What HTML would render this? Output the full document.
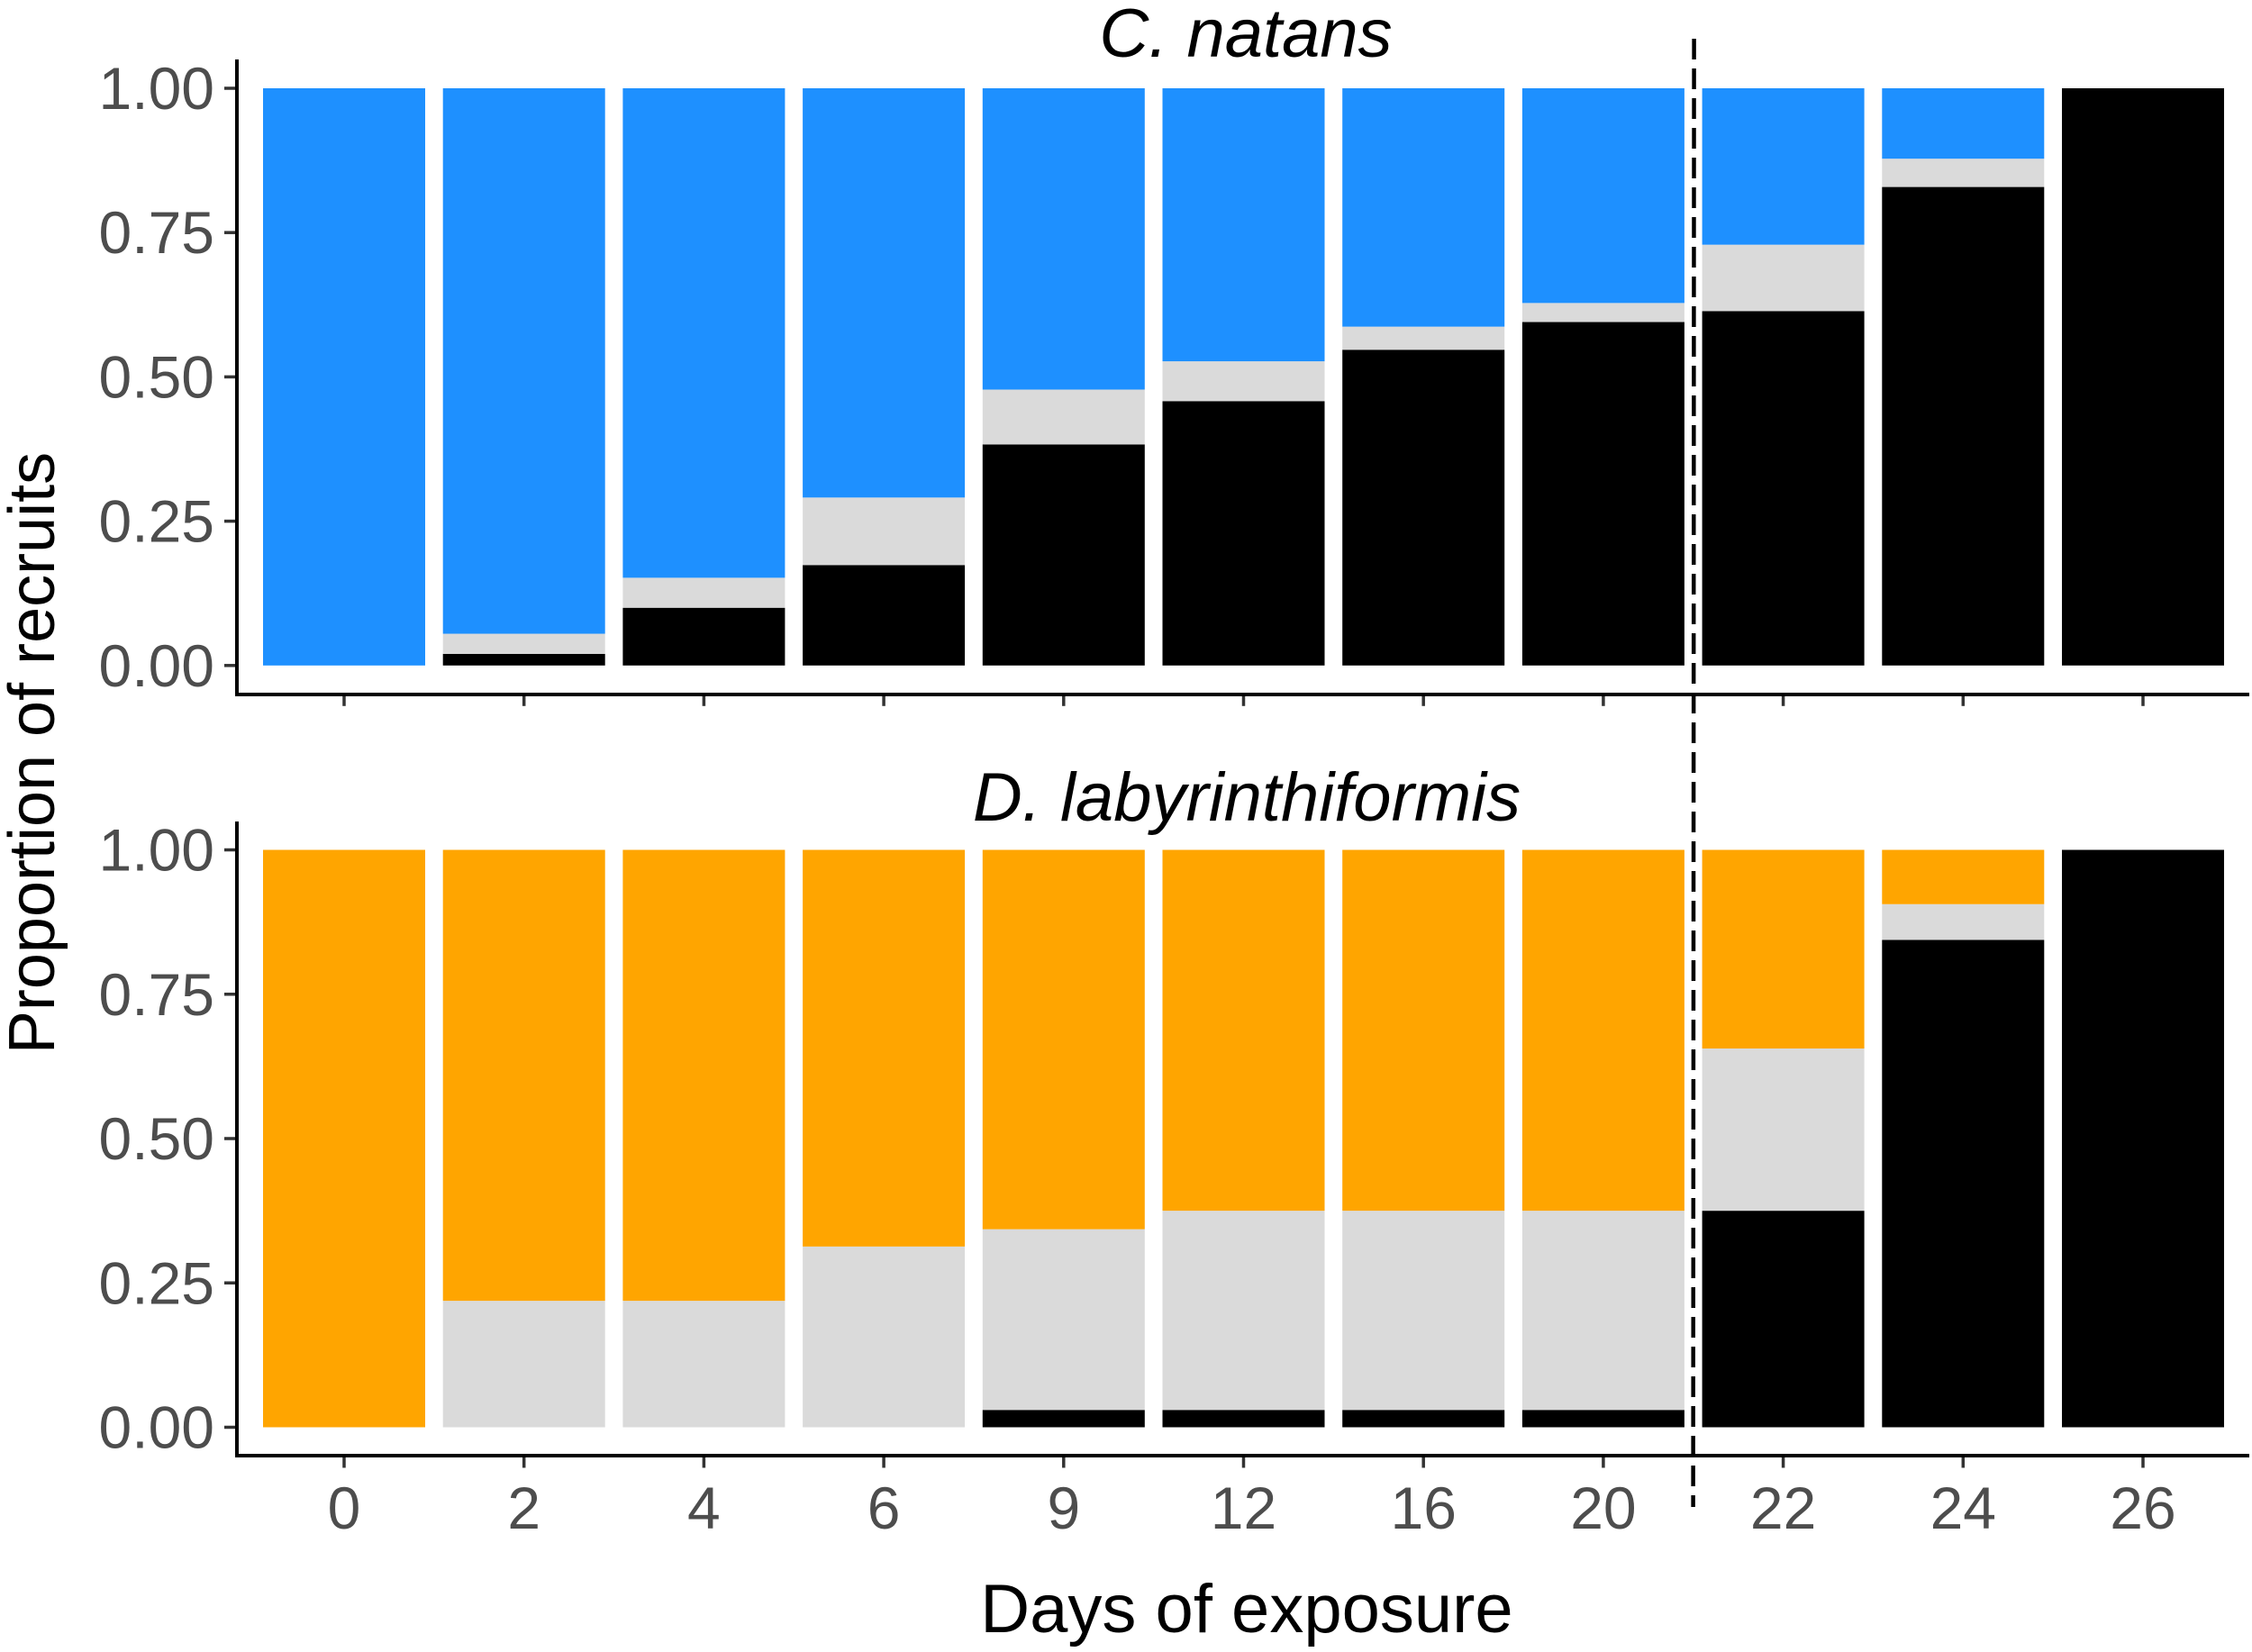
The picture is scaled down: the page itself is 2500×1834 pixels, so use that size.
<!DOCTYPE html>
<html>
<head>
<meta charset="utf-8">
<title>Proportion of recruits by days of exposure</title>
<style>
html,body{margin:0;padding:0;background:#fff;width:2500px;height:1834px;overflow:hidden}
svg{display:block}
text{font-family:"Liberation Sans",Arial,sans-serif}
</style>
</head>
<body>
<svg id="chart" xmlns="http://www.w3.org/2000/svg" width="2500" height="1834" viewBox="0 0 2500 1834">
  <rect x="0" y="0" width="2500" height="1834" fill="#fff"/>
  <g id="panel-top"></g>
  <g id="panel-bottom"></g>
  <line x1="263" y1="66" x2="263" y2="773" stroke="#000" stroke-width="4"/>
  <line x1="261" y1="771" x2="2497" y2="771" stroke="#000" stroke-width="4"/>
  <line x1="263" y1="912" x2="263" y2="1618" stroke="#000" stroke-width="4"/>
  <line x1="261" y1="1616" x2="2497" y2="1616" stroke="#000" stroke-width="4"/>
  <text x="1383" y="63" font-size="76" font-style="italic" text-anchor="middle" fill="#000">C. natans</text>
  <text x="1384" y="911" font-size="76" font-style="italic" text-anchor="middle" fill="#000">D. labyrinthiformis</text>
  <text x="1384" y="1812" font-size="76" text-anchor="middle" fill="#000">Days of exposure</text>
  <text x="60" y="836" font-size="72" text-anchor="middle" fill="#000" transform="rotate(-90 60 836)">Proportion of recruits</text>
  <line x1="1880.6" y1="43" x2="1879.6" y2="1673" stroke="#000" stroke-width="4.5" stroke-dasharray="23 10"/>
</svg>
<script>
// Chart data
const days = ["0","2","4","6","9","12","16","20","22","24","26"];
const yTicks = [0, 0.25, 0.5, 0.75, 1];
const yTickLabels = ["0.00","0.25","0.50","0.75","1.00"];

// Proportions per day, stacked bottom to top
const natansBlack = [0, 0.02, 0.10, 0.174, 0.383, 0.458, 0.547, 0.595, 0.614, 0.829, 1];
const natansGrey  = [0, 0.035, 0.052, 0.117, 0.095, 0.069, 0.040, 0.033, 0.115, 0.049, 0];
const natansBlue  = [1, 0.945, 0.848, 0.709, 0.522, 0.473, 0.413, 0.372, 0.271, 0.122, 0];

const labyBlack  = [0, 0, 0, 0, 0.03, 0.03, 0.03, 0.03, 0.375, 0.844, 1];
const labyGrey   = [0, 0.219, 0.219, 0.313, 0.313, 0.345, 0.345, 0.345, 0.281, 0.062, 0];
const labyOrange = [1, 0.781, 0.781, 0.687, 0.657, 0.625, 0.625, 0.625, 0.344, 0.094, 0];

const SVG_NS = "http://www.w3.org/2000/svg";
const BAR_WIDTH = 180;
function xScale(i){ return 382 + 199.7 * i; }
function makeYScale(y0, y1){ return function(v){ return y0 + (y1 - y0) * v; }; }

function drawPanel(groupId, prefix, yScale, bottomSeries, midSeries, topSeries, topColor, topName, showXLabels){
  const g = document.getElementById(groupId);

  days.forEach(function(day, i){
    const segments = [
      {value: bottomSeries[i], color: "#000000", name: "settled"},
      {value: midSeries[i], color: "#DADADA", name: "intermediate"},
      {value: topSeries[i], color: topColor, name: topName}
    ];
    let cumulative = 0;
    segments.forEach(function(seg){
      if (seg.value <= 0) return;
      const top = yScale(cumulative + seg.value);
      const bottom = yScale(cumulative);
      const r = document.createElementNS(SVG_NS, "rect");
      r.setAttribute("x", xScale(i) - BAR_WIDTH / 2);
      r.setAttribute("y", top);
      r.setAttribute("width", BAR_WIDTH);
      r.setAttribute("height", bottom - top);
      r.setAttribute("fill", seg.color);
      
      
      g.appendChild(r);
      cumulative += seg.value;
    });

    const xAxisY = yScale(0) + 32;
    const tick = document.createElementNS(SVG_NS, "line");
    tick.setAttribute("x1", xScale(i));
    tick.setAttribute("x2", xScale(i));
    tick.setAttribute("y1", xAxisY);
    tick.setAttribute("y2", xAxisY + 13);
    tick.setAttribute("stroke", "#333333");
    tick.setAttribute("stroke-width", "3.5");
    
    
    g.appendChild(tick);

    if (showXLabels){
      const label = document.createElementNS(SVG_NS, "text");
      label.setAttribute("x", xScale(i));
      label.setAttribute("y", 1697);
      label.setAttribute("font-size", "66");
      label.setAttribute("text-anchor", "middle");
      label.setAttribute("fill", "#4D4D4D");
      
      
      label.textContent = day;
      g.appendChild(label);
    }
  });

  yTicks.forEach(function(v, i){
    const y = yScale(v);
    const tick = document.createElementNS(SVG_NS, "line");
    tick.setAttribute("x1", 249);
    tick.setAttribute("x2", 262);
    tick.setAttribute("y1", y);
    tick.setAttribute("y2", y);
    tick.setAttribute("stroke", "#333333");
    tick.setAttribute("stroke-width", "3.5");
    
    
    g.appendChild(tick);

    const label = document.createElementNS(SVG_NS, "text");
    label.setAttribute("x", 238);
    label.setAttribute("y", y + 23);
    label.setAttribute("font-size", "66");
    label.setAttribute("text-anchor", "end");
    label.setAttribute("fill", "#4D4D4D");
    
    
    label.textContent = yTickLabels[i];
    g.appendChild(label);
  });
}

drawPanel("panel-top", "natans", makeYScale(738.8, 98), natansBlack, natansGrey, natansBlue, "#1E90FF", "blue", false);
drawPanel("panel-bottom", "labyrinthiformis", makeYScale(1584.5, 943.5), labyBlack, labyGrey, labyOrange, "#FFA500", "orange", true);
</script>
</body>
</html>
